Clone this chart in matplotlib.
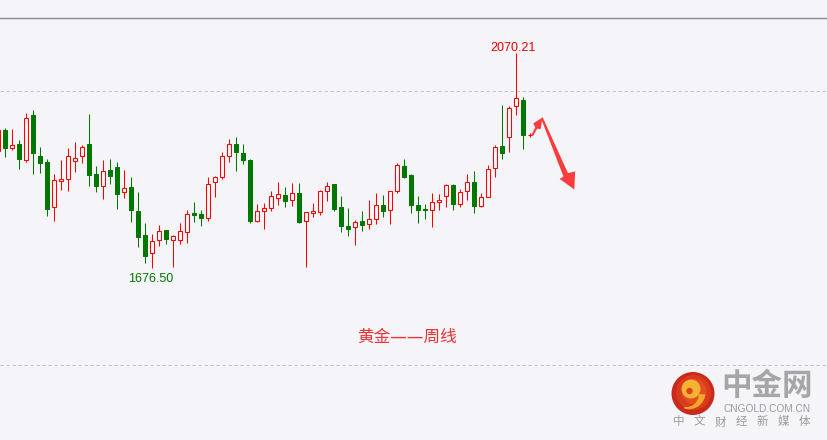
import numpy as np
import matplotlib
matplotlib.use('Agg')
import matplotlib.pyplot as plt
from matplotlib import transforms as mtransforms
from matplotlib.patches import Circle, Polygon
from matplotlib.lines import Line2D

# ---- weekly gold candles ----
opens = [1891.4, 1929.2, 1896.9, 1903.6, 1874.9, 1956.6, 1881.7, 1870.7, 1788.0, 1836.6,
         1839.1, 1872.0, 1881.7, 1903.6, 1848.8, 1827.4, 1856.1, 1861.6, 1816.5, 1824.5,
         1781.2, 1737.4, 1703.9, 1727.7, 1745.9, 1727.7, 1727.7, 1742.3, 1777.6, 1775.2,
         1767.9, 1833.6, 1842.8, 1881.1, 1903.6, 1887.2, 1873.8, 1763.5, 1780.7, 1786.1,
         1805.5, 1809.9, 1800.8, 1814.1, 1762.4, 1778.1, 1778.8, 1817.2, 1830.5, 1788.0,
         1753.8, 1751.4, 1762.9, 1756.9, 1766.0, 1791.6, 1782.5, 1817.2, 1862.9, 1847.0,
         1792.2, 1784.9, 1782.5, 1798.2, 1808.6, 1828.7, 1793.4, 1817.2, 1833.6, 1790.3,
         1806.2, 1859.2, 1900.0, 1917.0, 1973.0, 1984.0, 1919.8]
highs = [1932.8, 1932.8, 1931.0, 1910.9, 1959.7, 1965.7, 1898.1, 1875.7, 1848.8, 1874.4,
         1895.8, 1907.3, 1901.8, 1958.4, 1864.0, 1874.4, 1875.7, 1870.7, 1856.1, 1842.8,
         1816.5, 1758.7, 1739.2, 1755.6, 1746.5, 1737.4, 1758.7, 1783.0, 1797.7, 1783.0,
         1842.8, 1845.7, 1888.4, 1912.8, 1916.4, 1903.6, 1875.7, 1794.0, 1795.8, 1817.7,
         1834.2, 1825.1, 1832.4, 1832.4, 1779.9, 1795.8, 1819.6, 1834.2, 1830.5, 1808.6,
         1786.7, 1764.2, 1781.2, 1801.3, 1814.1, 1810.4, 1817.7, 1868.4, 1876.2, 1848.8,
         1808.6, 1794.0, 1813.5, 1812.3, 1830.5, 1830.5, 1820.9, 1848.8, 1854.3, 1813.5,
         1865.2, 1901.2, 1974.3, 1973.0, 2070.21, 1988.9, 1924.3]
lows = [1889.0, 1880.4, 1892.7, 1857.9, 1870.7, 1848.8, 1851.2, 1772.6, 1763.5, 1819.6,
        1818.3, 1853.0, 1868.4, 1827.4, 1816.5, 1803.7, 1830.0, 1784.3, 1805.5, 1761.1,
        1716.0, 1686.8, 1676.5, 1717.8, 1720.4, 1678.0, 1720.4, 1722.2, 1761.7, 1754.4,
        1763.5, 1807.3, 1839.7, 1871.3, 1854.3, 1867.1, 1759.8, 1761.7, 1748.9, 1781.8,
        1791.6, 1789.1, 1790.9, 1758.7, 1679.4, 1769.7, 1774.4, 1800.0, 1781.8, 1743.4,
        1735.5, 1719.6, 1745.2, 1748.9, 1758.0, 1770.8, 1758.0, 1813.5, 1842.0, 1778.1,
        1759.8, 1767.1, 1751.4, 1783.0, 1788.5, 1782.5, 1789.1, 1801.3, 1778.1, 1789.1,
        1806.2, 1843.9, 1876.8, 1889.5, 1956.6, 1893.9, 1915.9]
closes = [1929.2, 1896.9, 1901.8, 1876.8, 1950.6, 1887.7, 1869.5, 1785.4, 1837.3, 1839.7,
          1881.1, 1877.5, 1897.6, 1847.5, 1827.4, 1853.7, 1845.7, 1812.8, 1822.7, 1783.6,
          1733.2, 1699.5, 1725.8, 1744.1, 1730.6, 1735.0, 1744.1, 1775.2, 1774.4, 1767.9,
          1830.0, 1842.8, 1881.1, 1903.6, 1889.5, 1874.4, 1763.5, 1781.2, 1786.7, 1808.1,
          1811.7, 1800.0, 1813.5, 1761.7, 1778.8, 1781.2, 1817.2, 1826.3, 1785.4, 1754.4,
          1748.9, 1760.6, 1756.2, 1766.0, 1791.6, 1781.8, 1817.2, 1864.7, 1843.9, 1791.6,
          1782.5, 1782.5, 1797.1, 1800.8, 1828.7, 1794.5, 1816.5, 1833.6, 1790.9, 1806.2,
          1857.4, 1897.6, 1887.7, 1969.4, 1987.1, 1920.1, 1920.4]
grid_levels = [1500, 2000]
title_text = "黄金——周线"
logo_name = "中金网"
logo_url = "CNGOLD.COM.CN"
logo_slogan = ["中", "文", "财", "经", "新", "媒", "体"]

W, H = 828, 440
BG = '#f5f5f9'
RED = '#ff0000'
GREEN = '#007800'
CJK = ['Noto Sans CJK SC', 'DejaVu Sans']

fig = plt.figure(figsize=(W / 100, H / 100), dpi=100, facecolor=BG)
ax = fig.add_axes([0, 0, 1, 1])
ax.set_facecolor(BG)
for s in ax.spines.values():
    s.set_visible(False)

o = np.array(opens); h = np.array(highs); l = np.array(lows); c = np.array(closes)
x = np.arange(len(o))
ax.set_xlim(0.2386, 118.524)
ax.set_ylim(1362.8, 2166.7)
ax.set_xticks([])
ax.set_yticks(grid_levels)
ax.tick_params(left=False, labelleft=False)
ax.grid(axis='y', color='#c6c6c6', linestyle=(0, (3.5, 2.5)), linewidth=0.72, zorder=0)

up = c >= o
cols = np.where(up, RED, GREEN)
ax.vlines(x, l, h, colors=cols, linewidth=0.75, zorder=2)
bb = np.minimum(o, c)
bh = np.maximum(np.abs(c - o), 0.4)
ax.bar(x[up], bh[up], bottom=bb[up], width=0.56, facecolor=BG, edgecolor=RED,
       linewidth=0.75, zorder=3)
ax.bar(x[~up], bh[~up], bottom=bb[~up], width=0.56, facecolor=GREEN, edgecolor=GREEN,
       linewidth=0.75, zorder=3)

imax = int(np.argmax(h)); imin = int(np.argmin(l))
ax.annotate(f"{h[imax]:.2f}", (imax, h[imax]), xytext=(-2.7, 1.6), textcoords='offset points',
            ha='center', va='baseline', color='#ee0000', fontsize=9, family='Liberation Sans')
ax.annotate(f"{l[imin]:.2f}", (imin, l[imin]), xytext=(-1.0, -9.6), textcoords='offset points',
            ha='center', va='baseline', color=GREEN, fontsize=9, family='Liberation Sans')

# pixel transform (top-left origin) for decorations
T = mtransforms.Affine2D().scale(1 / W, -1 / H).translate(0, 1) + fig.transFigure

fig.add_artist(Line2D([0, W], [18.5, 18.5], transform=T, color='#8a8a8a', lw=1.0))

fig.text(406.7, 336.7, title_text, transform=T, ha='center', va='center', fontsize=12,
         color='#f03232', family=['DejaVu Sans', 'Noto Sans CJK SC'])

ARC = '#fa3c3c'
small = [(531.3, 134.8), (535.3, 127.6), (533.3, 123.3), (542.7, 117.5), (540.5, 129.3),
         (537.2, 128.6), (533.0, 136.2)]
big = [(541.2, 118.8), (542.6, 117.2), (568.0, 173.2), (575.2, 171.4), (574.3, 189.5),
       (559.6, 178.8), (563.5, 176.6)]
for pts in (small, big):
    fig.add_artist(Polygon(pts, closed=True, transform=T, facecolor=ARC, edgecolor='none'))

# logo
fig.add_artist(Circle((693, 393.5), 21.5, transform=T, facecolor='#c92a1c', edgecolor='none'))
fig.add_artist(Circle((693.5, 392.5), 17.5, transform=T, facecolor='#d83a1d', edgecolor='none'))
fig.add_artist(Circle((694, 391.5), 12.5, transform=T, facecolor='#e44e1f', edgecolor='none'))
fig.add_artist(Circle((691, 389), 9.5, transform=T, facecolor='#f6b333', edgecolor='none'))
fig.add_artist(Circle((689.5, 391), 3.2, transform=T, facecolor='#d8431e', edgecolor='none'))
t = np.radians(np.linspace(5, 105, 30))
r_out = np.linspace(17.5, 16.0, 30)
r_in = np.linspace(10.5, 14.5, 30)
cx, cy = 688.0, 393.0
outer = np.column_stack([cx + r_out * np.cos(t), cy + r_out * np.sin(t)])
inner = np.column_stack([cx + r_in * np.cos(t), cy + r_in * np.sin(t)])[::-1]
fig.add_artist(Polygon(np.vstack([outer, inner]), closed=True, transform=T,
                       facecolor='#f3a62c', edgecolor='none'))

fig.text(767.5, 386, logo_name, transform=T, ha='center', va='center', fontsize=22,
         fontweight='bold', color='#a6a6a6', family=CJK)
fig.text(767.5, 408.5, logo_url, transform=T, ha='center', va='center', fontsize=7.3,
         color='#9a9a9a', family='Liberation Sans')
for k, ch in enumerate(logo_slogan):
    fig.text(678.5 + 21 * k, 422, ch, transform=T, ha='center', va='center', fontsize=8.3,
             color='#9a9a9a', family=CJK)

fig.savefig('out.png', dpi=100, facecolor=BG)
